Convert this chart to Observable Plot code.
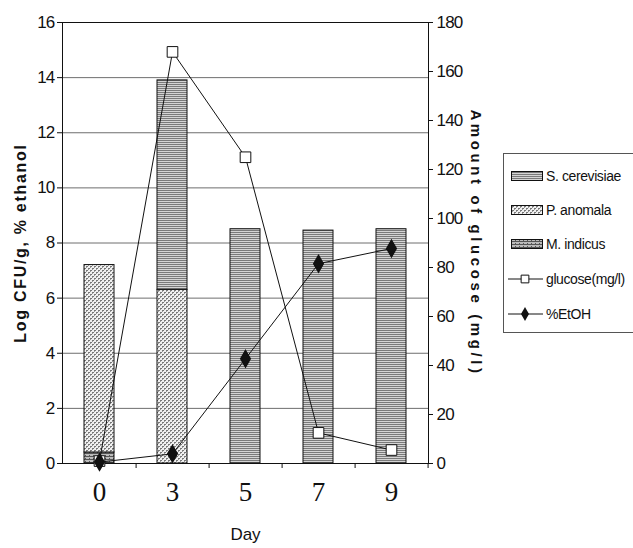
<!DOCTYPE html>
<html><head><meta charset="utf-8">
<script src="https://cdn.jsdelivr.net/npm/d3@7"></script>
<script src="https://cdn.jsdelivr.net/npm/@observablehq/plot@0.6"></script>
<style>
body{margin:0;background:#fff;overflow:hidden;width:633px;height:548px;position:relative;}
#chart{position:absolute;left:0;top:0;}
#legend{position:absolute;left:503px;top:153px;width:150px;height:178px;border:1px solid #555;background:#fff;font-family:"Liberation Sans",Arial,sans-serif;font-size:14px;letter-spacing:-0.4px;color:#111;}
.row{position:absolute;left:2px;display:flex;align-items:center;height:20px;white-space:nowrap}
.row svg{margin-right:2px}
</style></head><body>
<div id="chart"></div>
<div id="legend"></div>
<script>
const days = ["0", "3", "5", "7", "9"];
const seriesNames = ["S. cerevisiae", "P. anomala", "M. indicus"];
const sCerevisiae = [0, 7.6, 8.5, 8.45, 8.5];
const pAnomala = [6.8, 6.3, 0, 0, 0];
const mIndicus = [0.4, 0, 0, 0, 0];
const glucose = [1, 168, 125, 12.5, 5.5];
const ethanol = [0.05, 0.35, 3.8, 7.25, 7.8];
const leftTicks = [0, 2, 4, 6, 8, 10, 12, 14, 16];
const rightTicks = [0, 20, 40, 60, 80, 100, 120, 140, 160, 180];
const lineNames = ["glucose(mg/l)", "%EtOH"];

const k = 16 / 180;
const sans = '"Liberation Sans",Arial,sans-serif';
const bars = [];
days.forEach((d, i) => {
  [["M. indicus", mIndicus], ["P. anomala", pAnomala], ["S. cerevisiae", sCerevisiae]]
    .forEach(([s, arr]) => bars.push({day: d, series: s, value: arr[i]}));
});
const lines = days.map((d, i) => ({day: d, glucose: glucose[i] * k, ethanol: ethanol[i]}));

const plot = Plot.plot({
  width: 633, height: 548,
  marginLeft: 62, marginRight: 205, marginTop: 22, marginBottom: 85,
  style: {background: "transparent", fontFamily: sans, overflow: "visible", color: "#111"},
  x: {type: "band", domain: days, paddingInner: 0.59, paddingOuter: 0.295, align: 0.5},
  y: {domain: [0, 16]},
  color: {domain: seriesNames, range: ["url(#pS)", "url(#pP)", "url(#pM)"]},
  marks: [
    Plot.gridY(leftTicks, {stroke: "#6e6e6e", strokeOpacity: 1}),
    Plot.barY(bars, {x: "day", y: "value", fill: "series", stroke: "#111", strokeWidth: 1, filter: d => d.value > 0}),
    Plot.frame({stroke: "#111"}),
    Plot.axisY({ticks: leftTicks, tickSize: 5, tickPadding: 3, label: null, fontSize: 17, fontFamily: sans, className: "tick-narrow"}),
    Plot.axisY({anchor: "right", ticks: rightTicks.map(v => v * k), tickFormat: v => Math.round(v / k), tickSize: 4, tickPadding: 4, label: null, fontSize: 17, fontFamily: sans, className: "tick-narrow"}),
    Plot.axisX({tickSize: 0, tickPadding: 18, fontSize: 27, fontFamily: '"Liberation Serif","Times New Roman",serif', label: null}),
    Plot.axisX({tickSize: 5, text: null, dx: 36.6, label: null}),
    Plot.line(lines, {x: "day", y: "glucose", stroke: "#111", strokeWidth: 1}),
    Plot.dot(lines, {x: "day", y: "glucose", symbol: "square", r: 6, fill: "white", stroke: "#111", strokeWidth: 1}),
    Plot.line(lines, {x: "day", y: "ethanol", stroke: "#111", strokeWidth: 1}),
    Plot.dot(lines, {x: "day", y: "ethanol", symbol: "diamond", r: 5, fill: "#111", stroke: "#111"}),
    Plot.text(["Log CFU/g, % ethanol"], {text: d => d, frameAnchor: "left", textAnchor: "middle", rotate: -90, dx: -42, fontWeight: "bold", fontSize: 16, fontFamily: sans, className: "ttl-left"}),
    Plot.text(["Amount of glucose (mg/l)"], {text: d => d, frameAnchor: "right", textAnchor: "middle", rotate: 90, dx: 47, fontWeight: "bold", fontSize: 15, fontFamily: sans, className: "ttl-right"}),
    Plot.text(["Day"], {text: d => d, frameAnchor: "bottom", dy: 76, fontSize: 17, fontFamily: sans})
  ]
});

const sel = d3.select(plot);
sel.selectAll(".ttl-left text").style("letter-spacing", "1.7px");
sel.selectAll(".ttl-right text").style("letter-spacing", "3.6px");
sel.selectAll(".tick-narrow text").style("letter-spacing", "-0.8px");

const defs = sel.insert("defs", ":first-child");
const pS = defs.append("pattern").attr("id", "pS").attr("patternUnits", "userSpaceOnUse").attr("width", 4).attr("height", 2);
pS.append("rect").attr("width", 4).attr("height", 2).attr("fill", "#d4d4d4");
pS.append("rect").attr("width", 4).attr("height", 1).attr("fill", "#7a7a7a");
const pP = defs.append("pattern").attr("id", "pP").attr("patternUnits", "userSpaceOnUse").attr("width", 4).attr("height", 4);
pP.append("rect").attr("width", 4).attr("height", 4).attr("fill", "#f0f0f0");
pP.append("rect").attr("width", 2).attr("height", 1).attr("fill", "#777");
pP.append("rect").attr("x", 2).attr("y", 2).attr("width", 2).attr("height", 1).attr("fill", "#777");
pP.append("rect").attr("x", 0).attr("y", 1).attr("width", 1).attr("height", 1).attr("fill", "#999");
pP.append("rect").attr("x", 2).attr("y", 3).attr("width", 1).attr("height", 1).attr("fill", "#999");
const pM = defs.append("pattern").attr("id", "pM").attr("patternUnits", "userSpaceOnUse").attr("width", 4).attr("height", 3);
pM.append("rect").attr("width", 4).attr("height", 3).attr("fill", "#bbb");
pM.append("rect").attr("width", 4).attr("height", 1).attr("fill", "#555");
pM.append("rect").attr("x", 1).attr("y", 2).attr("width", 1).attr("height", 1).attr("fill", "#555");

document.getElementById("chart").appendChild(plot);

// Legend
const leg = d3.select("#legend");
const rowsY = [12, 46, 80, 115, 150];
const pats = ["pS", "pP", "pM"];
seriesNames.forEach((s, i) => {
  const r = leg.append("div").attr("class", "row").style("top", rowsY[i] + "px");
  const sv = r.append("svg").attr("width", 38).attr("height", 12);
  sv.append("rect").attr("x", 5.5).attr("y", 1.5).attr("width", 31).attr("height", 9).attr("fill", `url(#${pats[i]})`).attr("stroke", "#111");
  r.append("span").text(s);
});
lineNames.forEach((s, j) => {
  const r = leg.append("div").attr("class", "row").style("top", rowsY[3 + j] + "px");
  const sv = r.append("svg").attr("width", 38).attr("height", 14);
  sv.append("line").attr("x1", 2).attr("x2", 37).attr("y1", 7).attr("y2", 7).attr("stroke", "#111");
  if (j === 0) sv.append("path").attr("d", d3.symbol(d3.symbolSquare, 60)()).attr("transform", "translate(19,7)").attr("fill", "white").attr("stroke", "#111");
  else sv.append("path").attr("d", d3.symbol(d3.symbolDiamond, 55)()).attr("transform", "translate(19,7)").attr("fill", "#111");
  r.append("span").text(s);
});
</script>
</body></html>
